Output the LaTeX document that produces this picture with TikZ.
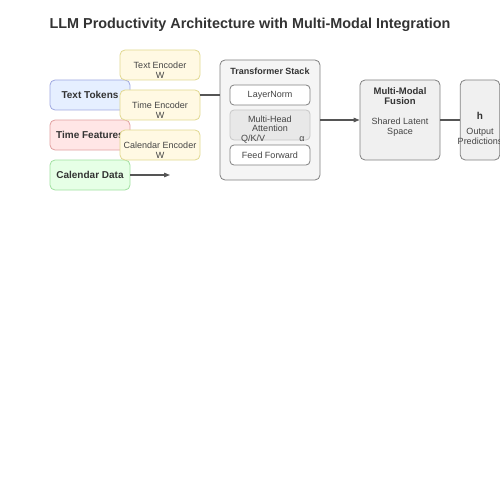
\documentclass[tikz,border=0pt]{standalone}
\usepackage{fontspec}
\setmainfont{Liberation Sans}
\usetikzlibrary{arrows.meta}
\usetikzlibrary{positioning}

\definecolor{inkdark}{HTML}{333333}
\definecolor{inkmid}{HTML}{444444}
\definecolor{linegray}{HTML}{555555}
\definecolor{tokfill}{HTML}{E6EFFF}
\definecolor{tokdraw}{HTML}{9FA8E0}
\definecolor{timefill}{HTML}{FFE6E6}
\definecolor{timedraw}{HTML}{E0A0A0}
\definecolor{calfill}{HTML}{E6FFE6}
\definecolor{caldraw}{HTML}{A0E0A0}
\definecolor{encfill}{HTML}{FFF9E3}
\definecolor{encdraw}{HTML}{E0D890}

\begin{document}
\begin{tikzpicture}[x=1pt,y=-1pt]
        \tikzset{
          >={Triangle[length=6pt,width=4.5pt]},
          box/.style={
            rounded corners=5pt,
            line width=0.8pt,
            inner sep=0pt,
            align=center,
            text=inkdark,
          },
          inputbox/.style={
            box,
            minimum width=80pt,
            minimum height=30pt,
            font=\fontsize{10}{11}\selectfont\bfseries,
          },
          encoderbox/.style={
            box,
            fill=encfill,
            draw=encdraw,
            minimum width=80pt,
            minimum height=30pt,
          },
          enctext/.style={
            align=center,
            inner sep=0pt,
            text=inkmid,
            font=\fontsize{9}{10}\selectfont,
          },
          layerbox/.style={
            box,
            rounded corners=4pt,
            minimum width=80pt,
            minimum height=20pt,
            text=inkmid,
            font=\fontsize{9}{9.5}\selectfont,
          },
          link/.style={linegray, line width=1.2pt},
        }
        \useasboundingbox (0,0) rectangle (500,500);

        \node[font=\fontsize{14.4}{16}\selectfont\bfseries, text=inkdark]
          (title) at (250,25) {LLM Productivity Architecture with Multi-Modal Integration};

        % inputs
        \node[inputbox, fill=tokfill, draw=tokdraw] (tokens) at (90,95) {Text Tokens};
        \node[inputbox, fill=timefill, draw=timedraw] (timefeat) at (90,135) {Time Features};
        \node[inputbox, fill=calfill, draw=caldraw] (caldata) at (90,175) {Calendar Data};

        % encoders
        \node[encoderbox] (textenc) at (160,65) {};
        \node[encoderbox] (timeenc) at (160,105) {};
        \node[encoderbox] (calenc) at (160,145) {};
        \node[enctext] (textenclabel) at (160,70) {Text Encoder\\W};
        \node[enctext] (timeenclabel) at (160,110) {Time Encoder\\W};
        \node[enctext] (calenclabel) at (160,150) {Calendar Encoder\\W};

        % transformer stack
        \node[box, fill=black!4, draw=black!50, minimum width=100pt, minimum height=120pt]
          (stack) at (270,120) {};
        \node[font=\fontsize{9}{10}\selectfont\bfseries, text=inkdark]
          (stacktitle) at (270,71) {Transformer Stack};
        \node[layerbox, fill=white, draw=black!50] (norm) at (270,95) {LayerNorm};
        \node[layerbox, fill=black!9, draw=black!22, minimum height=30pt] (attn) at (270,125) {};
        \node[font=\fontsize{9}{9.5}\selectfont, text=inkmid, align=center]
          (attntext) at (270,124) {Multi-Head\\Attention};
        \node[font=\fontsize{9}{9}\selectfont, text=inkmid] (qkv) at (253,139.5) {Q/K/V};
        \node[font=\fontsize{9}{9}\selectfont, text=inkmid] (alpha) at (302,139.5) {α};
        \node[layerbox, fill=white, draw=black!50] (ffn) at (270,155) {Feed Forward};

        % fusion and output
        \node[box, fill=black!6, draw=black!50, minimum width=80pt, minimum height=80pt]
          (fusion) at (400,120) {};
        \node[font=\fontsize{9.5}{9.5}\selectfont\bfseries, text=inkdark, align=center]
          (fusiontitle) at (400,96) {Multi-Modal\\Fusion};
        \node[font=\fontsize{9}{10}\selectfont, text=inkmid, align=center]
          (latent) at (400,127.5) {Shared Latent\\Space};
        \node[box, fill=black!6, draw=black!50, minimum width=39.5pt, minimum height=80pt]
          (output) at (480,120) {};
        \node[font=\fontsize{10}{10}\selectfont\bfseries, text=inkdark] (hvec) at (480,116) {h};
        \node[font=\fontsize{9}{10}\selectfont, text=inkmid, align=center]
          (preds) at (480,136) {Output\\Predictions};

        \coordinate (calend) at (170,175);

        \draw[link, ->] (caldata) -- (calend);
        \draw[link] (timeenc.east |- tokens.east) -- (stack.west |- tokens.east);
        \draw[link, ->] (stack) -- (fusion);
        \draw[link] (fusion) -- (output);
      \end{tikzpicture}
\end{document}
